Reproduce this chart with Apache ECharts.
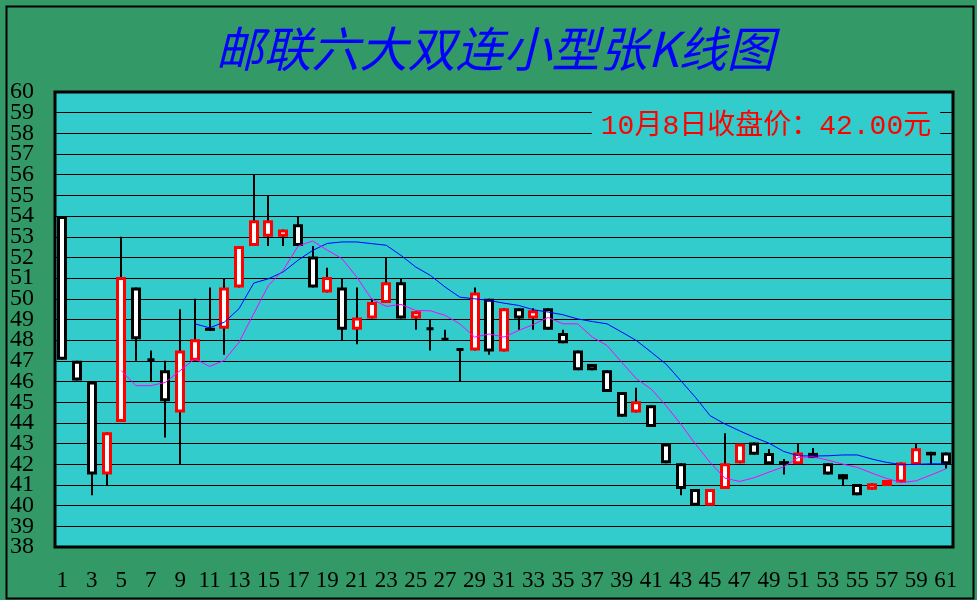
<!DOCTYPE html>
<html>
<head>
<meta charset="utf-8">
<script src="https://cdn.jsdelivr.net/npm/echarts@6/dist/echarts.min.js"></script>
<style>
html,body{margin:0;padding:0;background:#339966;}
#chart{width:977px;height:600px;}
</style>
</head>
<body>
<div id="chart"></div>
<script>
const categories = ['1','2','3','4','5','6','7','8','9','10','11','12','13','14','15','16','17','18','19','20',
  '21','22','23','24','25','26','27','28','29','30','31','32','33','34','35','36','37','38','39','40',
  '41','42','43','44','45','46','47','48','49','50','51','52','53','54','55','56','57','58','59','60','61'];

const openPrices = [54.0,47.0,46.0,41.5,44.05,50.55,47.1,46.55,44.5,47.0,
  48.6,48.55,50.55,52.55,53.0,53.0,53.6,52.05,50.3,50.55,
  48.5,49.05,49.8,50.8,49.05,48.6,48.1,47.6,47.5,50.0,
  47.45,49.55,49.05,49.55,48.35,47.5,46.85,46.55,45.5,44.5,
  44.85,43.0,42.05,40.8,40.0,40.8,42.05,43.05,42.55,42.15,
  42.0,42.55,42.05,41.52,41.05,40.77,40.95,41.12,41.97,42.6,42.57];

const closePrices = [47.05,46.05,41.5,43.55,51.05,48.05,47.0,45.05,47.5,48.05,
  48.45,50.55,52.55,53.8,53.8,53.35,52.55,50.55,51.05,48.5,
  49.1,49.85,50.8,49.05,49.4,48.5,48.0,47.5,50.3,47.45,
  49.55,49.05,49.45,48.5,47.85,46.55,46.55,45.5,44.3,45.05,
  43.8,42.05,40.8,40.0,40.8,42.05,43.0,42.46,42.0,42.0,
  42.57,42.3,41.5,41.27,40.5,41.08,41.24,42.09,42.77,42.43,42.0];

const lowPrices = [47.05,46.05,40.5,41.0,44.05,47.0,46.0,43.3,42.0,47.0,
  48.45,47.3,50.55,52.55,52.55,52.55,52.55,50.55,50.3,48.0,
  47.8,49.05,49.8,49.05,48.5,47.5,48.0,46.0,47.5,47.3,
  47.45,48.5,48.5,48.5,47.85,46.55,46.55,45.5,44.3,44.5,
  43.8,42.05,40.5,40.0,40.0,40.8,42.05,42.46,42.0,41.5,
  42.0,42.3,41.5,40.99,40.5,40.77,40.95,41.12,41.97,42.02,41.8];

const highPrices = [54.0,47.0,46.0,43.55,53.0,50.55,47.5,47.0,49.5,50.0,
  50.55,51.0,52.55,56.0,55.0,53.35,54.0,52.55,51.5,51.0,
  50.55,50.0,52.0,51.0,49.4,49.0,48.5,47.6,50.55,50.0,
  49.55,49.55,49.55,49.55,48.5,47.5,46.85,46.55,45.5,45.7,
  44.85,43.0,42.05,40.8,40.8,43.5,43.0,43.05,42.74,42.25,
  42.98,42.79,42.05,41.52,41.05,41.08,41.24,42.09,42.98,42.6,42.57];

const ma5 = ['-','-','-','-',46.53,45.8,45.8,45.96,46.53,47.1,
  46.73,47.02,47.9,49.28,50.65,51.38,52.54,52.8,52.35,51.94,
  51.05,50.0,49.63,49.73,49.44,49.42,49.2,48.79,48.15,48.3,
  48.15,48.47,48.76,49.1,48.79,48.79,48.15,47.74,46.93,46.13,
  45.64,44.84,43.95,42.98,42.09,41.33,41.17,41.35,41.62,41.88,
  42.33,42.36,42.2,42.01,41.85,41.57,41.31,41.12,41.2,41.48,41.77];

const ma10 = ['-','-','-','-','-','-','-','-','-',48.79,
  48.6,48.87,49.52,50.76,50.97,51.3,51.86,52.34,52.68,52.75,
  52.75,52.67,52.59,52.1,51.54,51.13,50.57,50.08,50.0,49.92,
  49.79,49.68,49.47,49.36,49.23,49.03,48.9,48.79,48.39,47.98,
  47.42,46.85,46.05,45.24,44.35,43.95,43.62,43.3,43.02,42.62,
  42.41,42.4,42.41,42.45,42.45,42.25,42.09,41.98,42.0,42.02,42.02];

const yMin = 38, yMax = 60, yStep = 1;
const titleText = '邮联六大双连小型张K线图';
const noteText = '10月8日收盘价：42.00元';

const candleData = categories.map((c, i) => [i, openPrices[i], closePrices[i], lowPrices[i], highPrices[i]]);

function renderCandle(params, api) {
  const idx = api.value(0);
  const o = api.value(1), c = api.value(2), lo = api.value(3), hi = api.value(4);
  const pO = api.coord([idx, o]);
  const pC = api.coord([idx, c]);
  const pL = api.coord([idx, lo]);
  const pH = api.coord([idx, hi]);
  const cx = Math.round(pO[0]);
  const band = api.size([1, 0])[0];
  const outerW = Math.round(band * 0.68);
  const bw = 3;
  const top = Math.min(pO[1], pC[1]);
  const bot = Math.max(pO[1], pC[1]);
  let h = bot - top - bw;
  let y = top + bw / 2;
  if (h < 0) { y = (top + bot) / 2; h = 0; }
  const up = c > o;
  return {
    type: 'group',
    children: [
      { type: 'line', shape: { x1: cx, y1: pH[1], x2: cx, y2: pL[1] },
        style: { stroke: '#000', lineWidth: 2 } },
      { type: 'rect', shape: { x: cx - outerW / 2 + bw / 2, y: y, width: outerW - bw, height: h },
        style: { fill: '#ffffff', stroke: up ? '#ff0000' : '#000000', lineWidth: bw, lineJoin: 'miter' } }
    ]
  };
}

const labelFont = { color: '#000', fontFamily: "'Liberation Serif', serif", fontSize: 24 };

const chart = echarts.init(document.getElementById('chart'), null, { renderer: 'canvas' });
chart.setOption({
  backgroundColor: '#339966',
  animation: false,
  grid: {
    left: 55, right: 24, top: 92, bottom: 53,
    show: true, backgroundColor: '#33CCCC', borderColor: '#000', borderWidth: 3
  },
  xAxis: {
    type: 'category',
    data: categories,
    boundaryGap: true,
    axisLine: { show: false },
    axisTick: { show: false },
    splitLine: { show: false },
    axisLabel: {
      interval: 1, margin: 22, color: '#000',
      fontFamily: "'Liberation Serif', serif", fontSize: 23
    }
  },
  yAxis: [
    {
      type: 'value', position: 'left',
      min: yMin, max: yMax, interval: yStep,
      axisLine: { show: false },
      axisTick: { show: false },
      splitLine: { show: true, lineStyle: { color: '#000', width: 1 } },
      axisLabel: Object.assign({
        margin: 21, showMinLabel: true, showMaxLabel: true, hideOverlap: false,
        formatter: v => (Math.round(v) % 2 === 0 ? String(v) : '')
      }, labelFont)
    },
    {
      type: 'value', position: 'left', offset: 0,
      min: yMin, max: yMax, interval: yStep,
      axisLine: { show: false },
      axisTick: { show: false },
      splitLine: { show: false },
      axisLabel: Object.assign({
        margin: 21, hideOverlap: false,
        formatter: v => (Math.round(v) % 2 === 1 ? String(v) : '')
      }, labelFont)
    }
  ],
  series: [
    {
      type: 'custom',
      renderItem: renderCandle,
      data: candleData,
      encode: { x: 0, y: [1, 2, 3, 4] },
      clip: true,
      z: 2
    },
    {
      type: 'line', data: ma10, symbol: 'none', smooth: false,
      lineStyle: { color: '#0000FF', width: 1 }, z: 3, silent: true
    },
    {
      type: 'line', data: ma5, symbol: 'none', smooth: false,
      lineStyle: { color: '#FF00FF', width: 1 }, z: 3, silent: true
    }
  ],
  graphic: [
    {
      type: 'rect', left: 4, top: 4, z: 100, silent: true,
      shape: { width: 967, height: 592 },
      style: { fill: 'none', stroke: '#000', lineWidth: 2 }
    },
    {
      type: 'text', x: 495, y: 49, z: 100,
      style: {
        text: titleText, fill: '#0000FF',
        font: "italic 48px 'Noto Sans CJK SC'",
        align: 'center', verticalAlign: 'middle'
      }
    },
    {
      type: 'text', x: 766, y: 127, z: 100,
      style: {
        text: noteText, fill: '#FF0000',
        font: "28px 'Liberation Mono', 'Noto Sans CJK SC'",
        align: 'center', verticalAlign: 'middle',
        backgroundColor: '#33CCCC', padding: [6, 9]
      }
    }
  ]
});
</script>
</body>
</html>
